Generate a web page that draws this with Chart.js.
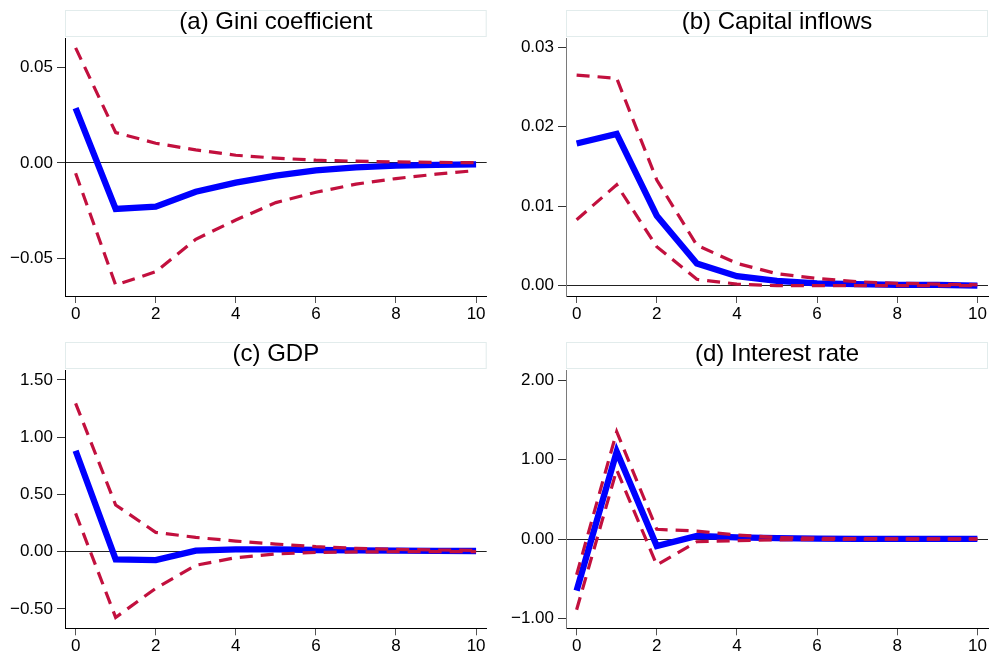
<!DOCTYPE html>
<html>
<head>
<meta charset="utf-8">
<title>Impulse responses</title>
<script src="https://cdn.jsdelivr.net/npm/chart.js@4.4.1/dist/chart.umd.min.js"></script>
<style>
  html, body { margin: 0; padding: 0; background: #ffffff; }
  #wrap { position: relative; width: 991px; height: 653px; overflow: hidden; background: #ffffff; }
  #wrap canvas { position: absolute; }
</style>
</head>
<body>
<div id="wrap">
  <canvas id="panelA" width="495" height="330" style="left:0px;top:0px;width:495px;height:330px"></canvas>
  <canvas id="panelB" width="496" height="330" style="left:495px;top:0px;width:496px;height:330px"></canvas>
  <canvas id="panelC" width="495" height="323" style="left:0px;top:330px;width:495px;height:323px"></canvas>
  <canvas id="panelD" width="496" height="323" style="left:495px;top:330px;width:496px;height:323px"></canvas>
</div>
<script>
// Forecast horizon and axis ticks
const horizon = [0, 1, 2, 3, 4, 5, 6, 7, 8, 9, 10];
const xTicks = [0, 2, 4, 6, 8, 10];

const panelTitles = ['(a) Gini coefficient', '(b) Capital inflows', '(c) GDP', '(d) Interest rate'];

// (a) Gini coefficient: response and confidence band
const giniIrf   = [0.0287, -0.0241, -0.0229, -0.0151, -0.0103, -0.0067, -0.0039, -0.0023, -0.0014, -0.0010, -0.0008];
const giniUpper = [0.0602, 0.0159, 0.0103, 0.0068, 0.0040, 0.0025, 0.0014, 0.0009, 0.0005, 0.0003, 0.0001];
const giniLower = [-0.0054, -0.0640, -0.0570, -0.0400, -0.0299, -0.0208, -0.0154, -0.0111, -0.0082, -0.0059, -0.0040];
const giniTicks = [-0.05, 0, 0.05];

// (b) Capital inflows
const capIrf   = [0.0179, 0.0191, 0.0088, 0.0028, 0.0012, 0.0006, 0.0003, 0.0002, 0.0001, 0.0001, 0.0000];
const capUpper = [0.0265, 0.0261, 0.0133, 0.0051, 0.0028, 0.0015, 0.0009, 0.0005, 0.0003, 0.0002, 0.0001];
const capLower = [0.0083, 0.0127, 0.0049, 0.0008, 0.0002, 0.0000, 0.0000, 0.0000, 0.0000, 0.0000, 0.0000];
const capTicks = [0, 0.01, 0.02, 0.03];

// (c) GDP
const gdpIrf   = [0.882, -0.067, -0.073, 0.009, 0.020, 0.020, 0.015, 0.012, 0.010, 0.008, 0.006];
const gdpUpper = [1.296, 0.408, 0.169, 0.125, 0.093, 0.067, 0.044, 0.029, 0.020, 0.015, 0.012];
const gdpLower = [0.335, -0.574, -0.320, -0.119, -0.052, -0.020, -0.006, -0.002, 0.000, 0.001, 0.001];
const gdpTicks = [-0.5, 0, 0.5, 1, 1.5];

// (d) Interest rate
const rateIrf   = [-0.65, 1.10, -0.088, 0.038, 0.020, 0.010, 0.005, 0.003, 0.002, 0.001, 0.001];
const rateUpper = [-0.45, 1.35, 0.122, 0.100, 0.050, 0.020, 0.010, 0.005, 0.003, 0.002, 0.001];
const rateLower = [-0.89, 0.87, -0.327, -0.034, -0.020, -0.010, -0.005, -0.003, -0.002, -0.001, -0.001];
const rateTicks = [-1, 0, 1, 2];

const BLUE = '#0000ff';
const BAND = '#c2103e';
const FONT_FAMILY = '"Liberation Sans", Arial, Helvetica, sans-serif';

// Boxed title drawn above each plot region
const panelTitle = {
  id: 'panelTitle',
  beforeDraw(chart, args, opts) {
    const { ctx, chartArea } = chart;
    const top = chartArea.top - 28;
    const h = 27;
    const w = chartArea.right - chartArea.left;
    ctx.save();
    ctx.fillStyle = '#ffffff';
    ctx.fillRect(chartArea.left, top, w, h);
    ctx.strokeStyle = '#e2ecec';
    ctx.lineWidth = 1;
    ctx.strokeRect(chartArea.left + 0.5, top + 0.5, w - 1, h - 1);
    ctx.fillStyle = '#000000';
    ctx.font = '24px ' + FONT_FAMILY;
    ctx.textAlign = 'center';
    ctx.textBaseline = 'alphabetic';
    ctx.fillText(opts.text, (chartArea.left + chartArea.right) / 2, top + 18.8);
    ctx.restore();
  }
};

const fmt = v => (v < 0 ? '\u2212' : '') + Math.abs(v).toFixed(2);
const toPoints = vals => horizon.map((h, i) => ({ x: h, y: vals[i] }));

function makePanel(id, title, irf, upper, lower, yTicks, yMin, yMax, geo) {
  const tickFont = { family: FONT_FAMILY, size: 17 };
  return new Chart(document.getElementById(id), {
    type: 'line',
    data: {
      datasets: [
        { data: toPoints(irf), borderColor: BLUE, borderWidth: 6.3, order: 2 },
        { data: toPoints(upper), borderColor: BAND, borderWidth: 3.2, borderDash: [13, 8], order: 1 },
        { data: toPoints(lower), borderColor: BAND, borderWidth: 3.2, borderDash: [13, 8], order: 1 }
      ]
    },
    options: {
      responsive: false,
      animation: false,
      devicePixelRatio: 1,
      layout: { autoPadding: false, padding: { left: 0, right: geo.right, top: geo.top, bottom: 0 } },
      elements: {
        point: { radius: 0, hoverRadius: 0 },
        line: { tension: 0, borderCapStyle: 'butt', borderJoinStyle: 'miter', fill: false }
      },
      plugins: {
        legend: { display: false },
        tooltip: { enabled: false },
        panelTitle: { text: title }
      },
      scales: {
        x: {
          type: 'linear',
          min: -0.265,
          max: 10.265,
          afterFit(s) { s.height = geo.xh; },
          afterBuildTicks(s) { s.ticks = xTicks.map(v => ({ value: v })); },
          grid: { drawOnChartArea: false, tickLength: 7, color: '#555555', tickColor: '#555555' },
          border: { color: '#000000', width: 1 },
          ticks: { font: tickFont, color: '#000000', padding: 1, maxRotation: 0, autoSkip: false, callback: v => String(v) }
        },
        y: {
          type: 'linear',
          min: yMin,
          max: yMax,
          afterFit(s) { s.width = geo.yw; },
          afterBuildTicks(s) { s.ticks = yTicks.map(v => ({ value: v })); },
          grid: {
            color: c => (c.tick && c.tick.value === 0) ? '#222222' : 'rgba(0,0,0,0)',
            tickColor: '#333333',
            tickLength: 8,
            lineWidth: 1
          },
          border: { color: geo.axis, width: 1 },
          ticks: { font: tickFont, color: '#000000', padding: 4, autoSkip: false, callback: v => fmt(v) }
        }
      }
    },
    plugins: [panelTitle]
  });
}

makePanel('panelA', panelTitles[0], giniIrf, giniUpper, giniLower, giniTicks, -0.0697, 0.0654,
  { yw: 65, right: 8.3, top: 38, xh: 34, axis: '#000000' });
makePanel('panelB', panelTitles[1], capIrf, capUpper, capLower, capTicks, -0.0013, 0.03117,
  { yw: 71, right: 3, top: 38, xh: 34, axis: '#7a7a7a' });
makePanel('panelC', panelTitles[2], gdpIrf, gdpUpper, gdpLower, gdpTicks, -0.669, 1.587,
  { yw: 65, right: 8.3, top: 40, xh: 24.7, axis: '#000000' });
makePanel('panelD', panelTitles[3], rateIrf, rateUpper, rateLower, rateTicks, -1.123, 2.126,
  { yw: 71, right: 3, top: 40, xh: 24.7, axis: '#7a7a7a' });
</script>
</body>
</html>
